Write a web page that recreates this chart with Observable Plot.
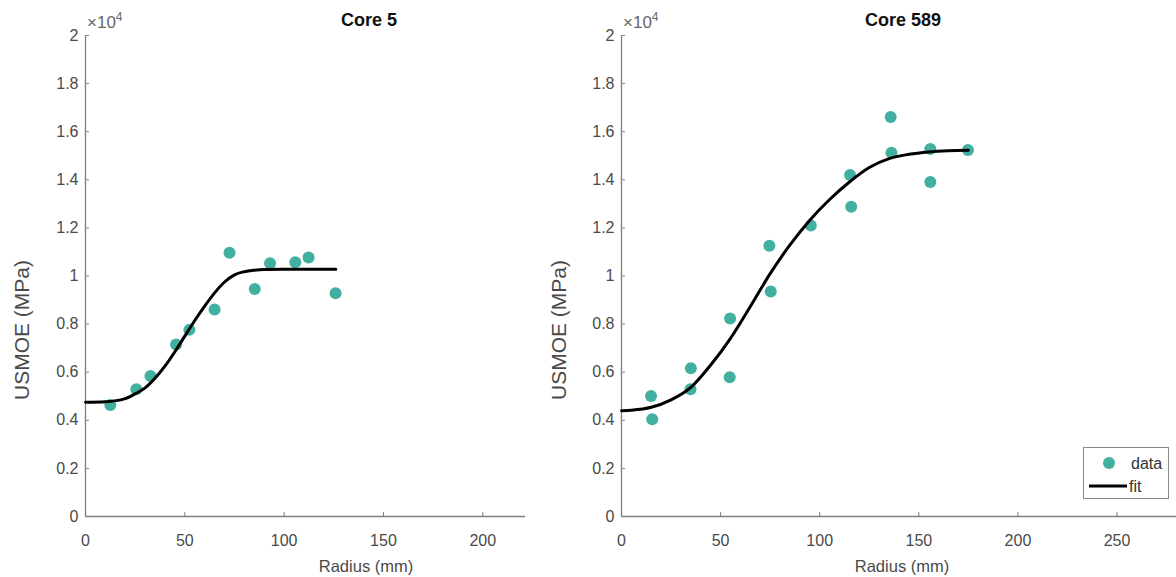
<!DOCTYPE html>
<html>
<head>
<meta charset="utf-8">
<script src="https://cdn.jsdelivr.net/npm/d3@7"></script>
<script src="https://cdn.jsdelivr.net/npm/@observablehq/plot@0.6"></script>
<style>
  body { margin: 0; background: #fff; }
  #wrap { position: relative; width: 1176px; height: 577px; overflow: hidden; font-family: "Liberation Sans", Arial, sans-serif; }
  .panel { position: absolute; top: 0; }
  .txt { position: absolute; white-space: nowrap; color: #4a4a4a; transform: translate(-50%, -50%); }
  .title { font-weight: bold; font-size: 18px; color: #111; }
  .xlab { font-size: 16.5px; }
  .ylab { font-size: 21px; transform: translate(-50%, -50%) rotate(-90deg); }
  .exp { position: absolute; font-size: 17px; color: #666; line-height: 1; }
  .exp .sup { font-size: 12px; position: relative; top: -7px; }
  #legend { position: absolute; left: 1083px; top: 447px; width: 84px; height: 50px; border: 1.5px solid #8a8a8a; background: #fff; }
</style>
</head>
<body>
<div id="wrap">
  <div id="left" class="panel" style="left:0"></div>
  <div id="right" class="panel" style="left:540px"></div>
  <div class="txt title" style="left:369px;top:20px">Core 5</div>
  <div class="txt title" style="left:903px;top:20px">Core 589</div>
  <div class="exp" style="left:87px;top:14px">×10<span class="sup">4</span></div>
  <div class="exp" style="left:623px;top:14px">×10<span class="sup">4</span></div>
  <div class="txt xlab" style="left:366px;top:566px">Radius (mm)</div>
  <div class="txt xlab" style="left:902px;top:566px">Radius (mm)</div>
  <div class="txt ylab" style="left:22px;top:330px">USMOE (MPa)</div>
  <div class="txt ylab" style="left:559px;top:330px">USMOE (MPa)</div>
  <div id="legend">
    <svg width="84" height="50" style="position:absolute;left:0;top:0">
      <circle cx="25" cy="15" r="6" fill="#41b0a0"></circle>
      <line x1="5" x2="43" y1="38" y2="38" stroke="#000" stroke-width="3"></line>
      <text x="47" y="21" font-size="16" fill="#333" font-family="Liberation Sans, Arial, sans-serif">data</text>
      <text x="45" y="44" font-size="16" fill="#333" font-family="Liberation Sans, Arial, sans-serif">fit</text>
    </svg>
  </div>
</div>
<script>
// ---- Data ----
const core5Radius = [12.5, 25.6, 32.7, 45.6, 52.3, 65.0, 72.5, 85.2, 92.9, 105.6, 112.3, 125.9];
const core5Usmoe  = [4640, 5290, 5840, 7150, 7760, 8610, 10970, 9460, 10530, 10570, 10770, 9280];
const core5FitRadius = [0, 10, 20, 25, 30, 35, 40, 45, 50, 55, 60, 65, 70, 75, 80, 85, 90, 100, 126];
const core5FitUsmoe  = [4750, 4770, 4900, 5100, 5350, 5750, 6250, 6850, 7500, 8150, 8750, 9300, 9750, 10050, 10180, 10240, 10270, 10280, 10280];

const core589Radius = [14.9, 15.5, 35.0, 34.8, 54.8, 54.6, 74.6, 75.3, 95.5, 115.3, 115.9, 135.8, 136.2, 155.8, 155.8, 174.8];
const core589Usmoe  = [5010, 4040, 6160, 5290, 8230, 5790, 11260, 9360, 12100, 14200, 12880, 16610, 15120, 15280, 13910, 15240];
const core589FitRadius = [0, 5, 15, 25, 35, 45, 55, 65, 75, 85, 95, 105, 115, 125, 135, 145, 155, 165, 175];
const core589FitUsmoe  = [4400, 4420, 4540, 4850, 5370, 6300, 7410, 8730, 10100, 11290, 12320, 13180, 13910, 14510, 14880, 15060, 15160, 15210, 15230];

const yTicks = [0, 2000, 4000, 6000, 8000, 10000, 12000, 14000, 16000, 18000, 20000];
const xTicksLeft = [0, 50, 100, 150, 200];
const xTicksRight = [0, 50, 100, 150, 200, 250];

const teal = "#41b0a0";
const axisGray = "#7f7f7f";
const textGray = "#4a4a4a";

function makePanel({radius, usmoe, fitR, fitU, width, marginLeft, marginRight, xDomain, xTicks}) {
  const pts = radius.map((r, i) => ({r, v: usmoe[i]}));
  const fit = fitR.map((r, i) => ({r, v: fitU[i]}));
  return Plot.plot({
    width, height: 577,
    marginLeft, marginRight, marginTop: 35, marginBottom: 61,
    style: {fontFamily: "Liberation Sans, Arial, sans-serif", fontSize: "16px", color: textGray, background: "transparent"},
    x: {domain: xDomain},
    y: {domain: [0, 20000]},
    marks: [
      Plot.ruleX([0], {stroke: axisGray, strokeWidth: 1.3}),
      Plot.ruleY([0], {stroke: axisGray, strokeWidth: 1.3}),
      Plot.axisX({ticks: xTicks, tickSize: -4, tickPadding: 22, label: null, stroke: axisGray, fill: textGray}),
      Plot.axisY({ticks: yTicks, tickSize: -4, tickPadding: 11, label: null, stroke: axisGray, fill: textGray,
        tickFormat: d => String(+(d / 1e4).toFixed(1))}),
      Plot.dot(pts, {x: "r", y: "v", r: 6, fill: teal, stroke: "none"}),
      Plot.line(fit, {x: "r", y: "v", stroke: "#000", strokeWidth: 3, curve: "monotone-x"})
    ]
  });
}

document.getElementById("left").append(makePanel({
  radius: core5Radius, usmoe: core5Usmoe, fitR: core5FitRadius, fitU: core5FitUsmoe,
  width: 540, marginLeft: 85, marginRight: 15, xDomain: [0, 221.5], xTicks: xTicksLeft
}));
document.getElementById("right").append(makePanel({
  radius: core589Radius, usmoe: core589Usmoe, fitR: core589FitRadius, fitU: core589FitUsmoe,
  width: 636, marginLeft: 81, marginRight: 0, xDomain: [0, 280], xTicks: xTicksRight
}));
</script>
</body>
</html>
